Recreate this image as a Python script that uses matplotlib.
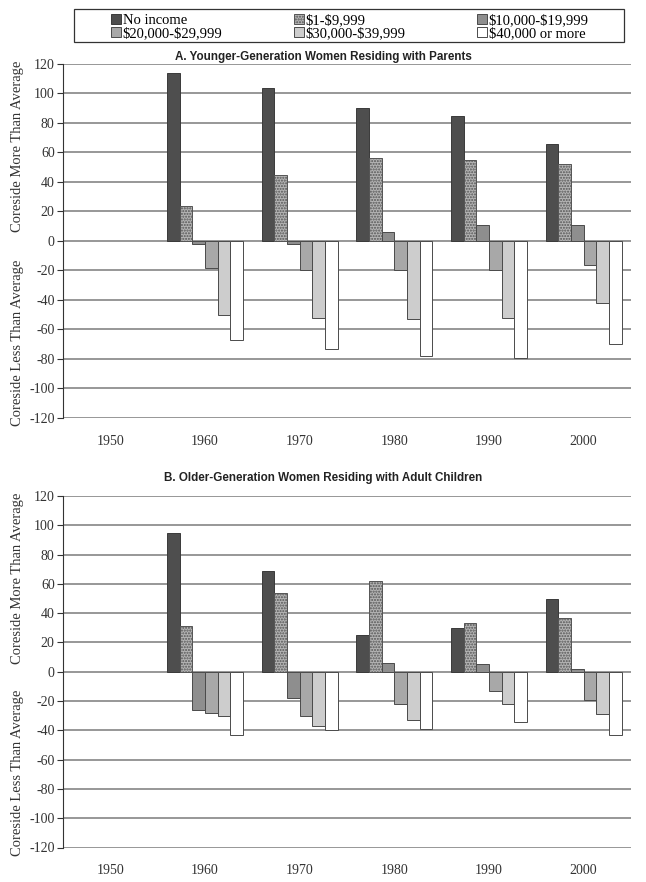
import matplotlib
matplotlib.use("Agg")
import matplotlib.pyplot as plt
from matplotlib.patches import Rectangle
import numpy as np

plt.rcParams["axes.unicode_minus"] = False
plt.rcParams["text.parse_math"] = False

years = ["1950", "1960", "1970", "1980", "1990", "2000"]
groups = ["No income", "$1-$9,999", "$10,000-$19,999",
          "$20,000-$29,999", "$30,000-$39,999", "$40,000 or more"]

# values per income group, 1950 has no data
younger = {
    "No income":       [np.nan, 114, 104, 90, 85, 66],
    "$1-$9,999":       [np.nan, 24, 45, 56, 55, 52],
    "$10,000-$19,999": [np.nan, -2, -2, 6, 11, 11],
    "$20,000-$29,999": [np.nan, -18, -20, -20, -20, -16],
    "$30,000-$39,999": [np.nan, -50, -52, -53, -52, -42],
    "$40,000 or more": [np.nan, -67, -73, -78, -79, -70],
}
older = {
    "No income":       [np.nan, 95, 69, 25, 30, 50],
    "$1-$9,999":       [np.nan, 31, 54, 62, 33, 37],
    "$10,000-$19,999": [np.nan, -26, -18, 6, 5, 2],
    "$20,000-$29,999": [np.nan, -28, -30, -22, -13, -19],
    "$30,000-$39,999": [np.nan, -30, -37, -33, -22, -29],
    "$40,000 or more": [np.nan, -43, -40, -39, -34, -43],
}

faces = ["#4e4e4e", "#b4b4b4", "#8e8e8e", "#a8a8a8", "#cdcdcd", "#ffffff"]
hatches = [None, "......", None, None, None, None]
edges = ["#3a3a3a", "#555555", "#4a4a4a", "#4a4a4a", "#4a4a4a", "#4a4a4a"]

serif = "Liberation Serif"
sans = "Liberation Sans"

fig = plt.figure(figsize=(6.46, 8.82), dpi=100)
W, H = 646, 882


def panel(ax, data):
    x = np.arange(len(years))
    w = 0.8 / len(groups)
    for i, g in enumerate(groups):
        ax.bar(x + (i - 2.5) * w, data[g], width=w, color=faces[i],
               edgecolor=edges[i], linewidth=0.7, hatch=hatches[i], zorder=3)
    ax.set_xlim(-0.5, len(years) - 0.5)
    ax.set_ylim(-120, 120)
    ax.set_yticks(np.arange(-120, 121, 20))
    ax.set_xticks(x)
    ax.set_xticklabels(years, fontfamily=serif, fontsize=10, color="#333333")
    for lab in ax.get_yticklabels():
        lab.set_fontfamily(serif); lab.set_fontsize(10); lab.set_color("#333333")
    ax.tick_params(axis="x", length=0, pad=12)
    ax.tick_params(axis="y", length=4, width=0.8, color="#333333", pad=2, direction="out")
    for s in ["top", "right", "bottom"]:
        ax.spines[s].set_visible(False)
    ax.spines["left"].set_color("#333333"); ax.spines["left"].set_linewidth(0.8)
    ax.grid(axis="y", color="#7a7a7a", linewidth=1.1, zorder=0)
    ax.set_axisbelow(True)
    # two-part y label
    tr = ax.get_yaxis_transform()
    ax.text(-0.08, 64, "Coreside More Than Average", transform=tr, rotation=90,
            ha="center", va="center", fontfamily=serif, fontsize=10.5, color="#333333")
    ax.text(-0.08, -69, "Coreside Less Than Average", transform=tr, rotation=90,
            ha="center", va="center", fontfamily=serif, fontsize=10.5, color="#333333")


left, right = 63 / W, 631 / W
axA = fig.add_axes([left, 1 - 418 / H, right - left, (418 - 64) / H])
axB = fig.add_axes([left, 1 - 847.5 / H, right - left, (847.5 - 496) / H])
panel(axA, younger)
panel(axB, older)

fig.text(0.5, 1 - 57 / H, "A. Younger-Generation Women Residing with Parents",
         ha="center", va="center", fontfamily=sans, fontweight="bold", fontsize=8.4, color="#222222")
fig.text(0.5, 1 - 478 / H, "B. Older-Generation Women Residing with Adult Children",
         ha="center", va="center", fontfamily=sans, fontweight="bold", fontsize=8.4, color="#222222")

# legend, rows across: reorder for column-wise fill
handles = [Rectangle((0, 0), 1, 1, facecolor=faces[i], edgecolor=edges[i],
                     linewidth=0.7, hatch=hatches[i]) for i in range(6)]
order = [0, 3, 1, 4, 2, 5]
fig.legend([handles[i] for i in order], [groups[i] for i in order], ncol=3,
           loc="center", bbox_to_anchor=(350 / W, 1 - 27 / H), frameon=False,
           prop={"family": serif, "size": 10.5}, handlelength=0.65, handleheight=0.65,
           handletextpad=0.15, columnspacing=4.9, labelspacing=0.0, borderpad=0)
fig.patches.append(Rectangle((74 / W, 1 - 42 / H), 550 / W, 33 / H, transform=fig.transFigure,
                             fill=False, edgecolor="#333333", linewidth=0.9))

fig.savefig("out.png", dpi=100)
